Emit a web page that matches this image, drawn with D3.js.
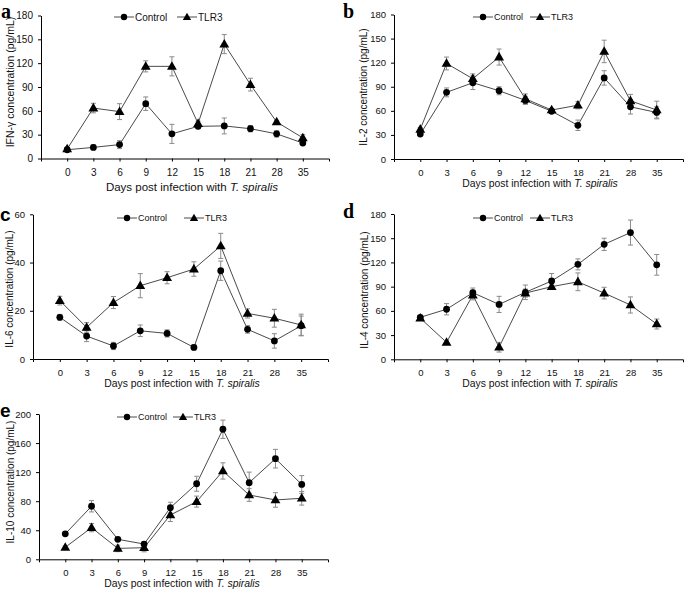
<!DOCTYPE html>
<html><head><meta charset="utf-8">
<script src="https://cdn.jsdelivr.net/npm/d3@7"></script>
<style>
html,body{margin:0;padding:0;background:#fff;}
svg{display:block;font-family:"Liberation Sans",Arial,sans-serif;}
</style></head>
<body><svg id="chart" width="685" height="590"></svg>
<script>
const days = ["0","3","6","9","12","15","18","21","28","35"];
const seriesNames = ["Control","TLR3"];

const ifngControl    = [11, 14, 17.5, 69, 31, 40.5, 41, 37.5, 31, 19.5];
const ifngControlErr = [2, 3, 5, 8.5, 12, 3, 10, 4, 4, 2];
const ifngTLR3       = [12, 63.5, 59, 116, 116, 44, 144, 93, 46, 26];
const ifngTLR3Err    = [2, 6, 10, 7, 12, 3, 12, 8, 2, 4];

const il2Control    = [31, 83, 95, 85, 73, 59.5, 42, 101, 65, 58];
const il2ControlErr = [1.5, 5.5, 8.5, 5, 5, 2.5, 6.5, 9, 9, 7];
const il2TLR3       = [37, 119, 100, 127, 75, 61, 67, 134, 72.5, 61];
const il2TLR3Err    = [2, 8, 6, 10, 6, 2, 4.5, 14, 8, 11];

const il6Control    = [17.3, 9.5, 5.4, 11.7, 10.6, 4.8, 36.6, 12.3, 7.5, 13.8];
const il6ControlErr = [1.2, 2.3, 1.5, 2.4, 1.5, 1, 4, 1.6, 3, 4];
const il6TLR3       = [24.2, 13.1, 23.4, 30.4, 33.7, 37.3, 46.9, 18.9, 16.9, 14.1];
const il6TLR3Err    = [1.8, 2, 2.5, 5, 2.5, 3, 5.2, 1.9, 3.7, 4.5];

const il4Control    = [52, 62, 82.5, 68, 83, 97, 117.6, 142.4, 157, 117];
const il4ControlErr = [2, 7, 5.8, 10, 9, 9.3, 6.8, 7.6, 15.5, 12.8];
const il4TLR3       = [51, 21, 79.6, 15, 82, 90, 96, 82, 67.3, 43.7];
const il4TLR3Err    = [2, 2, 6, 6, 5, 3.3, 11, 7.2, 10, 6.2];

const il10Control    = [35, 73, 27.5, 21, 71, 104, 179, 105.5, 138.5, 103];
const il10ControlErr = [2, 7.8, 1, 3, 7.5, 10.3, 12.6, 14.5, 12.8, 12.2];
const il10TLR3       = [16.5, 43.6, 15, 16, 61, 79.4, 121.6, 88.5, 81.7, 84];
const il10TLR3Err    = [2, 5.7, 4.5, 5.7, 9, 7.6, 11.2, 8.7, 10, 9.4];

const yTicksA = [0,30,60,90,120,150,180];
const yTicksB = [0,30,60,90,120,150,180];
const yTicksC = [0,20,40,60];
const yTicksD = [0,30,60,90,120,150,180];
const yTicksE = [0,40,80,120,160,200];

const xTitle = "Days post infection with ";
const xTitleItalic = "T. spiralis";

const svg = d3.select("#chart");

const panels = [
  {letter:"a", serif:true, lx:1, ly:18, x0:41, x1:329, yTop:15.5, yBot:158.5, ticks:yTicksA,
   title:"IFN-γ concentration (pg/mL)", tx:14, ty:82, xtx:192, xty:32, c:ifngControl, ce:ifngControlErr, t:ifngTLR3, te:ifngTLR3Err,
   leg:[114,177], legY:17, fs:{tick:10, leg:10, title:11.5, ytitle:10.5}},
  {letter:"b", serif:true, lx:343, ly:18, x0:394, x1:683, yTop:14.5, yBot:159, ticks:yTicksB,
   title:"IL-2 concentration (pg/mL)", tx:367, ty:87, xtx:540, xty:27.5, c:il2Control, ce:il2ControlErr, t:il2TLR3, te:il2TLR3Err,
   leg:[473,530], legY:17, fs:{tick:9.5, leg:9, title:10.4, ytitle:10}},
  {letter:"c", serif:false, lx:0, ly:221, x0:33, x1:328, yTop:214.3, yBot:359, ticks:yTicksC,
   title:"IL-6 concentration (pg/mL)", tx:13, ty:289, xtx:182, xty:28, c:il6Control, ce:il6ControlErr, t:il6TLR3, te:il6TLR3Err,
   leg:[117,184], legY:218, fs:{tick:9.5, leg:9, title:10.4, ytitle:10}},
  {letter:"d", serif:true, lx:343, ly:218, x0:394, x1:683, yTop:214, yBot:359.3, ticks:yTicksD,
   title:"IL-4 concentration (pg/mL)", tx:368, ty:290, xtx:540, xty:28, c:il4Control, ce:il4ControlErr, t:il4TLR3, te:il4TLR3Err,
   leg:[473,530], legY:218, fs:{tick:9.5, leg:9, title:10.4, ytitle:10}},
  {letter:"e", serif:false, lx:0, ly:417, x0:39, x1:328, yTop:414, yBot:559.3, ticks:yTicksE,
   title:"IL-10 concentration (pg/mL)", tx:14, ty:482, xtx:182, xty:27.5, c:il10Control, ce:il10ControlErr, t:il10TLR3, te:il10TLR3Err,
   leg:[117,173], legY:417, fs:{tick:9.5, leg:9, title:10.4, ytitle:10}}
];

const lineColor = "#4a4a4a";
const errColor = "#8a8a8a";
const triPath = s => d3.symbol(d3.symbolTriangle).size(s)();

panels.forEach(p => {
  const g = svg.append("g");
  const x = d3.scalePoint().domain(days).range([p.x0, p.x1]).padding(1);
  const y = d3.scaleLinear().domain([0, d3.max(p.ticks)]).range([p.yBot, p.yTop]);

  const ya = g.append("g").attr("transform", `translate(${p.x0},0)`)
    .call(d3.axisLeft(y).tickValues(p.ticks).tickSize(3).tickSizeOuter(0).tickPadding(5));
  const xa = g.append("g").attr("transform", `translate(0,${p.yBot})`)
    .call(d3.axisBottom(x).tickSize(3).tickSizeOuter(3).tickPadding(7));
  [ya, xa].forEach(a => {
    a.selectAll("path,line").attr("stroke", "#000").attr("stroke-width", 1);
    a.selectAll("text").attr("font-size", p.fs.tick).attr("fill", "#111")
      .attr("font-family", '"Liberation Sans",Arial,sans-serif');
  });

  const xt = g.append("text").attr("x", p.xtx).attr("y", p.yBot + p.xty)
    .attr("text-anchor", "middle").attr("font-size", p.fs.title).attr("fill", "#111");
  xt.append("tspan").text(xTitle);
  xt.append("tspan").attr("font-style", "italic").text(xTitleItalic);

  g.append("text").attr("transform", `translate(${p.tx},${p.ty}) rotate(-90)`)
    .attr("text-anchor", "middle").attr("font-size", p.fs.ytitle).attr("fill", "#111").text(p.title);

  g.append("text").attr("x", p.lx).attr("y", p.ly)
    .attr("font-family", p.serif ? '"Liberation Serif","Times New Roman",serif' : '"Liberation Sans",Arial,sans-serif')
    .attr("font-weight", "bold").attr("font-size", p.serif ? 20 : 19).attr("fill", "#000").text(p.letter);

  const series = [
    {name:seriesNames[0], v:p.c, e:p.ce, shape:"circle"},
    {name:seriesNames[1], v:p.t, e:p.te, shape:"tri"}
  ];
  const line = d3.line().x((d, i) => x(days[i])).y(d => y(d));

  series.forEach(s => {
    g.append("path").datum(s.v).attr("d", line).attr("fill", "none")
      .attr("stroke", lineColor).attr("stroke-width", 1);
  });
  series.forEach(s => {
    const eb = g.append("g");
    s.v.forEach((v, i) => {
      const cx = x(days[i]);
      const hi = y(v + s.e[i]), lo = y(v - s.e[i]);
      eb.append("line").attr("x1", cx).attr("x2", cx).attr("y1", hi).attr("y2", lo);
      eb.append("line").attr("x1", cx - 2.5).attr("x2", cx + 2.5).attr("y1", hi).attr("y2", hi);
      eb.append("line").attr("x1", cx - 2.5).attr("x2", cx + 2.5).attr("y1", lo).attr("y2", lo);
    });
    eb.selectAll("line").attr("stroke", errColor).attr("stroke-width", 1);
  });
  series.forEach(s => {
    s.v.forEach((v, i) => {
      const cx = x(days[i]), cy = y(v);
      if (s.shape === "circle") {
        g.append("circle").attr("cx", cx).attr("cy", cy).attr("r", 3.4).attr("fill", "#000");
      } else {
        g.append("path").attr("d", triPath(42)).attr("transform", `translate(${cx},${cy + 0.5})`).attr("fill", "#000");
      }
    });
  });

  series.forEach((s, k) => {
    const lx = p.leg[k], ly = p.legY;
    const lg = g.append("g");
    lg.append("line").attr("x1", lx).attr("x2", lx + 20).attr("y1", ly).attr("y2", ly)
      .attr("stroke", lineColor).attr("stroke-width", 1);
    if (s.shape === "circle") {
      lg.append("circle").attr("cx", lx + 10).attr("cy", ly).attr("r", 3.2).attr("fill", "#000");
    } else {
      lg.append("path").attr("d", triPath(30)).attr("transform", `translate(${lx + 10},${ly + 0.5})`).attr("fill", "#000");
    }
    lg.append("text").attr("x", lx + 21).attr("y", ly).attr("dy", "0.35em")
      .attr("font-size", p.fs.leg).attr("fill", "#111").text(s.name);
  });
});
</script>
</body></html>
